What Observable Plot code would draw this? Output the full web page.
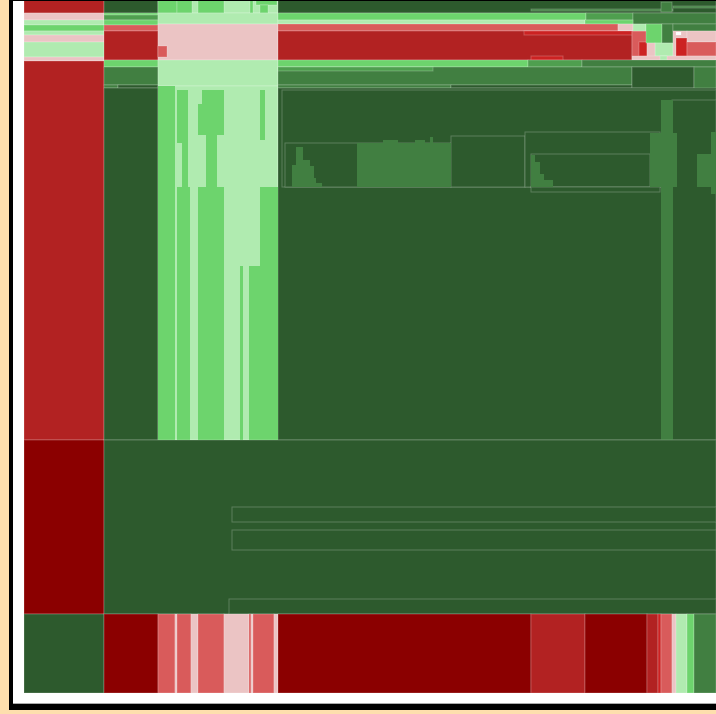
<!DOCTYPE html>
<html>
<head>
<meta charset="utf-8">
<script src="https://cdn.jsdelivr.net/npm/d3@7"></script>
<script src="https://cdn.jsdelivr.net/npm/@observablehq/plot@0.6"></script>
<style>
  html, body { margin: 0; padding: 0; width: 716px; height: 714px; overflow: hidden; background: #fedfad; font-family: "DejaVu Sans", sans-serif; }
  #shadow { position: absolute; left: 9px; top: -2px; width: 720px; height: 712px; background: #000; }
  #paper { position: absolute; left: 13px; top: 1px; width: 710px; height: 702px; background: #fff; border-bottom: 1px solid #aaa; }
  #chart { position: absolute; left: 24px; top: 1px; width: 692px; height: 692px; overflow: hidden; }
  #chart svg { display: block; }
</style>
</head>
<body>
<div id="shadow"></div>
<div id="paper"></div>
<div id="chart"></div>
<script>
// tone categories and their colours
const tones   = ["DR", "FB", "RD", "IR", "PK", "WH", "LG", "GR", "MG", "FG", "DG"];
const palette = ["#8b0000", "#b22222", "#cc2222", "#d95b5b", "#ebc4c4", "#ffffff", "#b0ebb0", "#6dd46d", "#4f9f4f", "#417f41", "#2d5a2d"];

// cells: [x1, x2, y1, y2, tone]
const leftColumn = [
  [24,104,0,13,"FB"],[24,104,13,20,"PK"],[24,104,20,25,"LG"],[24,104,25,31,"GR"],
  [24,104,31,35,"LG"],[24,104,35,42,"PK"],[24,104,42,57,"LG"],[24,104,57,61,"PK"],
  [24,104,61,440,"FB"],[24,104,440,614,"DR"],[24,104,614,693,"DG"]
];
const secondColumn = [
  [104,158,0,13,"DG"],[104,158,13,15,"GR"],[104,158,15,20,"MG"],[104,158,20,25,"GR"],
  [104,158,25,31,"IR"],[104,158,31,60,"FB"],[104,158,60,67,"GR"],[104,158,67,85,"FG"],
  [104,118,85,88,"FG"],[118,158,85,88,"DG"],[104,158,88,440,"DG"]
];
const thirdColumn = [
  [158,278,0,13,"LG"],[158,177,0,13,"GR"],[177,192,0,13,"GR"],[198,224,0,13,"GR"],
  [250,253,0,13,"GR"],[256,277,0,5,"GR"],[260,268,5,13,"GR"],
  [158,278,13,24,"LG"],[158,278,24,60,"PK"],[158,167,46,57,"IR"],[158,278,60,86,"LG"],
  [158,278,86,440,"LG"]
];
const thirdColumnGreens = [
  [158,175,86,440,"GR"],[177,188,90,143,"GR"],[182,188,143,187,"GR"],
  [177,190,187,440,"GR"],[202,224,90,135,"GR"],[198,202,104,135,"GR"],[206,217,135,187,"GR"],
  [198,224,187,440,"GR"],[260,265,90,140,"GR"],[240,243,266,440,"GR"],[249,278,266,440,"GR"],
  [260,278,187,266,"GR"]
];
const topBand = [
  [278,716,0,13,"DG"],[531,673,9,11,"FG"],[661,672,2,12,"FG"],[673,716,6,8,"FG"],
  [278,586,13,20,"GR"],[586,633,13,20,"MG"],[633,716,13,24,"FG"],
  [278,585,20,24,"LG"],[585,633,20,24,"GR"],
  [278,618,24,31,"IR"],[618,633,24,31,"PK"],
  [278,632,31,60,"FB"],[524,632,31,35,"RD"],[531,563,56,60,"RD"],
  [632,647,31,60,"IR"],[639,647,42,56,"RD"],
  [633,646,24,31,"LG"],[646,662,24,43,"GR"],[662,673,24,43,"FG"],[673,716,24,31,"FG"],
  [655,673,43,56,"LG"],[647,655,43,60,"PK"],
  [673,687,31,56,"PK"],[676,687,38,56,"RD"],[676,681,32,35,"WH"],
  [687,716,31,42,"PK"],[687,716,42,56,"IR"],
  [632,716,56,60,"PK"],[660,667,56,60,"LG"],
  [278,528,60,67,"GR"],[528,582,60,67,"MG"],[582,716,60,67,"FG"],
  [278,632,67,85,"FG"],[278,433,67,71,"MG"],[278,451,85,88,"FG"],[451,632,85,88,"DG"],
  [632,694,67,88,"DG"],[694,716,67,100,"FG"]
];
const mainBlock = [
  [278,716,88,440,"DG"],[282,716,90,187,"DG"],
  [285,451,143,187,"DG"],[451,525,136,187,"DG"],[525,660,132,187,"DG"],
  [531,650,154,187,"DG"],[531,660,187,192,"DG"],[672,716,100,440,"DG"]
];
const hills = [
  [296,303,147,187,"FG"],[292,296,165,187,"FG"],[303,310,160,187,"FG"],
  [310,314,166,187,"FG"],[314,316,178,187,"FG"],[316,322,183,187,"FG"],
  [357,451,143,187,"FG"],[383,398,140,143,"FG"],[415,425,140,143,"FG"],[430,433,137,143,"FG"],
  [531,535,155,187,"FG"],[535,540,162,187,"FG"],[540,544,174,187,"FG"],[544,553,180,187,"FG"],
  [661,673,100,440,"FG"],[650,677,133,187,"FG"],
  [697,716,154,187,"FG"],[711,716,132,194,"FG"]
];
const lowerBlock = [
  [104,716,440,614,"DG"],[232,716,507,522,"DG"],[232,716,530,550,"DG"],
  [229,716,599,614,"DG"]
];
const bottomStrip = [
  [104,158,"DR"],[158,175,"IR"],[175,177,"PK"],[177,191,"IR"],[191,198,"PK"],
  [198,224,"IR"],[224,249,"PK"],[249,251,"IR"],[251,253,"PK"],[253,274,"IR"],
  [274,278,"PK"],[278,531,"DR"],[531,585,"FB"],[585,647,"DR"],[647,658,"FB"],
  [658,661,"RD"],[661,672,"IR"],[672,676,"PK"],[676,687,"LG"],[687,694,"GR"],[694,716,"FG"]
];

const toCell = ([x1, x2, y1, y2, tone]) => ({x1, x2, y1, y2, tone});
const outlined = [
  ...leftColumn, ...secondColumn, ...thirdColumn, ...topBand, ...mainBlock
].map(toCell);
const solid = [...thirdColumnGreens, ...hills].map(toCell);
const lower = [
  ...lowerBlock,
  ...bottomStrip.map(([x1, x2, tone]) => [x1, x2, 614, 693, tone])
].map(toCell);

const rectOpts = {x1: "x1", x2: "x2", y1: "y1", y2: "y2", fill: "tone"};
const edge = {stroke: "#ffffff", strokeOpacity: 0.22, strokeWidth: 1};

const chart = Plot.plot({
  width: 692,
  height: 692,
  margin: 0,
  x: {domain: [24, 716], range: [0, 692], axis: null},
  y: {domain: [1, 693], range: [0, 692], axis: null},
  color: {type: "ordinal", domain: tones, range: palette},
  style: {background: "transparent"},
  marks: [
    Plot.rect(outlined, {...rectOpts, ...edge}),
    Plot.rect(solid, {...rectOpts}),
    Plot.rect(lower, {...rectOpts, ...edge})
  ]
});
document.getElementById("chart").appendChild(chart);
</script>
</body>
</html>
